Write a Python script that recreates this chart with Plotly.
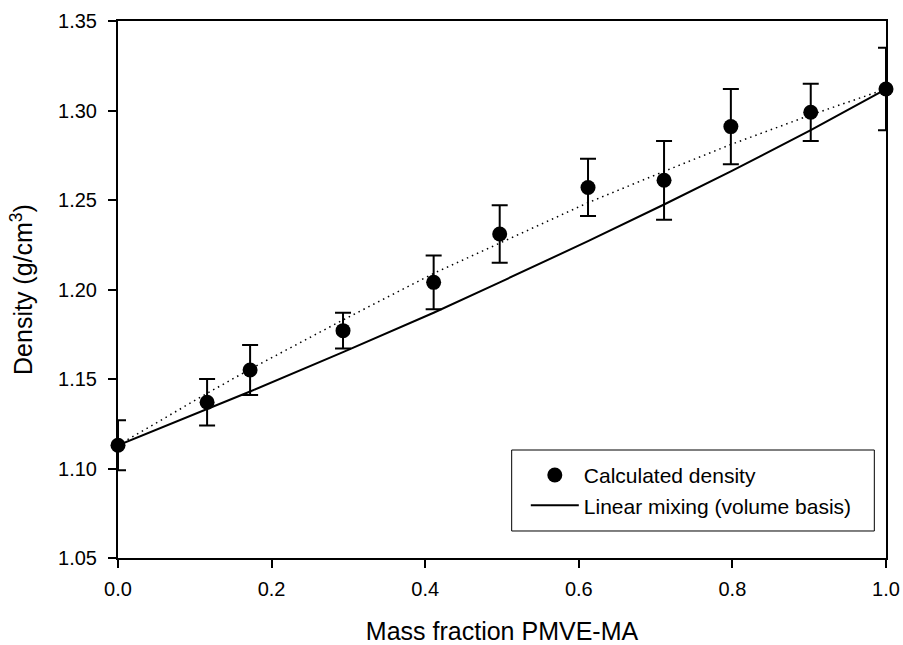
import plotly.graph_objects as go

# Data
mass_fraction = [0.0, 0.116, 0.172, 0.293, 0.411, 0.497, 0.612, 0.711, 0.798, 0.902, 1.0]
calc_density = [1.113, 1.137, 1.155, 1.177, 1.204, 1.231, 1.257, 1.261, 1.291, 1.299, 1.312]
density_err = [0.014, 0.013, 0.014, 0.010, 0.015, 0.016, 0.016, 0.022, 0.021, 0.016, 0.023]
linear_mixing = [1.113, 1.133, 1.143, 1.165, 1.187, 1.204, 1.227, 1.2475, 1.266, 1.289, 1.312]
fit_curve = [1.113, 1.142, 1.1555, 1.183, 1.209, 1.226, 1.2485, 1.266, 1.281, 1.2975, 1.312]

x_ticks = [0.0, 0.2, 0.4, 0.6, 0.8, 1.0]
y_ticks = [1.05, 1.10, 1.15, 1.20, 1.25, 1.30, 1.35]

FONT = "Liberation Sans, Arial, sans-serif"

fig = go.Figure()

fig.add_trace(go.Scatter(
    x=mass_fraction, y=fit_curve, mode="lines",
    line=dict(color="black", width=1.5, dash="1.5px,4px"),
    showlegend=False, hoverinfo="skip", cliponaxis=False,
))

fig.add_trace(go.Scatter(
    x=mass_fraction, y=calc_density, mode="markers",
    name="Calculated density",
    marker=dict(color="black", size=15, symbol="circle"),
    error_y=dict(type="data", array=density_err, visible=True,
                 color="black", thickness=2, width=8),
    cliponaxis=False,
))

fig.add_trace(go.Scatter(
    x=mass_fraction, y=linear_mixing, mode="lines",
    name="Linear mixing (volume basis)",
    line=dict(color="black", width=2),
    cliponaxis=False,
))

axis_common = dict(
    showline=True, linecolor="black", linewidth=2, mirror=True,
    ticks="outside", ticklen=8, tickwidth=2, tickcolor="black",
    showgrid=False, zeroline=False, automargin=False,
    tickfont=dict(family=FONT, size=20, color="black"),
)

fig.update_xaxes(
    range=[0, 1], tickvals=x_ticks, tickformat=".1f",
    ticklabelstandoff=4,
    title=dict(text="Mass fraction PMVE-MA", font=dict(family=FONT, size=25, color="black"), standoff=27),
    **axis_common,
)
fig.update_yaxes(
    range=[1.05, 1.35], tickvals=y_ticks, tickformat=".2f",
    ticklabelstandoff=7,
    title=dict(text="Density (g/cm<sup>3</sup>)", font=dict(family=FONT, size=25, color="black"), standoff=18),
    **axis_common,
)

# legend frame
fig.add_shape(type="rect", xref="paper", yref="paper",
              x0=0.5126, x1=0.9848, y0=0.0503, y1=0.2011,
              line=dict(color="black", width=1), fillcolor="white", layer="above")

fig.update_layout(
    width=903, height=645,
    margin=dict(l=118, r=17, t=21, b=87, autoexpand=False),
    paper_bgcolor="white", plot_bgcolor="white",
    font=dict(family=FONT, color="black"),
    legend=dict(
        x=0.531, y=0.192, xanchor="left", yanchor="top",
        borderwidth=0, bgcolor="rgba(0,0,0,0)",
        font=dict(family=FONT, size=21, color="black"),
        itemwidth=48,
    ),
)

fig.write_html(
    "out.html",
    config={"displayModeBar": False},
    post_script="document.body.style.margin='0px';document.body.style.overflow='hidden';",
)
